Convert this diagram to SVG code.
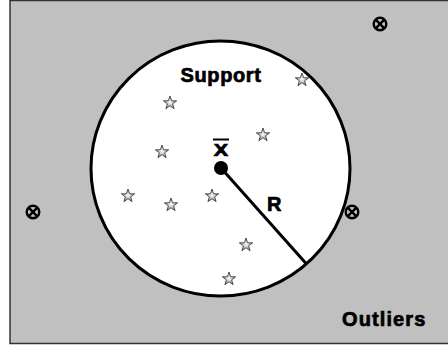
<svg xmlns="http://www.w3.org/2000/svg" xmlns:xlink="http://www.w3.org/1999/xlink" width="448" height="347" viewBox="0 0 448 347">
<style>
.lbl{font-family:"Liberation Sans",Arial,sans-serif;font-weight:bold;fill:#000;stroke:#000;stroke-width:0.7}
.otl{fill:none;stroke:#000;stroke-width:2.4}
.star{fill:url(#sg);stroke:#333;stroke-width:0.8;stroke-linejoin:miter}
</style>
<defs>
<radialGradient id="sg" cx="0.5" cy="0.5" r="0.5">
<stop offset="0" stop-color="#ffffff"/>
<stop offset="1" stop-color="#808080"/>
</radialGradient>
<path id="st" class="star" d="M0,-7 L1.65,-2.27 L6.66,-2.16 L2.67,0.87 L4.11,5.66 L0,2.8 L-4.11,5.66 L-2.67,0.87 L-6.66,-2.16 L-1.65,-2.27 Z"/>
<g id="ox">
<circle r="6.3" class="otl"/>
<path class="otl" d="M-4.3,-4.3 L4.3,4.3 M4.3,-4.3 L-4.3,4.3"/>
</g>
</defs>
<g id="region">
<rect x="10" y="0.5" width="440" height="343" fill="#c0c0c0" stroke="#333" stroke-width="1.5"/>
</g>
<g id="support">
<ellipse cx="220.5" cy="168.5" rx="129.5" ry="127.5" fill="#fff" stroke="#000" stroke-width="3"/>
<text class="lbl" x="221" y="81.5" font-size="20" text-anchor="middle" letter-spacing="0.6">Support</text>
</g>
<g id="connectors">
<line x1="221" y1="168" x2="306.5" y2="264" stroke="#000" stroke-width="3"/>
</g>
<g id="mean">
<circle cx="221" cy="168" r="7" fill="#000"/>
<text class="lbl" x="221" y="156" font-size="16" text-anchor="middle" transform="translate(221 0) scale(1.35 1) translate(-221 0)">X</text>
<line x1="213" y1="139.5" x2="229" y2="139.5" stroke="#000" stroke-width="2"/>
</g>
<g id="radius-label">
<text class="lbl" x="267" y="211" font-size="20">R</text>
</g>
<g id="stars">
<use xlink:href="#st" x="302" y="80"/>
<use xlink:href="#st" x="170" y="103"/>
<use xlink:href="#st" x="263" y="135"/>
<use xlink:href="#st" x="162" y="152"/>
<use xlink:href="#st" x="128" y="196"/>
<use xlink:href="#st" x="171" y="205"/>
<use xlink:href="#st" x="212" y="196"/>
<use xlink:href="#st" x="246" y="245"/>
<use xlink:href="#st" x="229" y="279"/>
</g>
<g id="outliers">
<use xlink:href="#ox" x="380" y="24"/>
<use xlink:href="#ox" x="33" y="212"/>
<use xlink:href="#ox" x="352" y="212"/>
<text class="lbl" x="342" y="326" font-size="20" letter-spacing="1.1">Outliers</text>
</g>
</svg>
